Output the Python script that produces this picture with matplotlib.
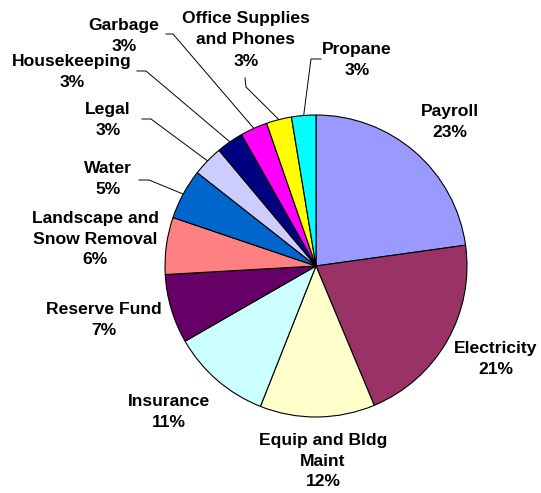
import numpy as np
import matplotlib.pyplot as plt

# budget shares (percent)
categories = ['Payroll', 'Electricity', 'Equip and Bldg\nMaint', 'Insurance',
              'Reserve Fund', 'Landscape and\nSnow Removal', 'Water', 'Legal',
              'Housekeeping', 'Garbage', 'Office Supplies\nand Phones', 'Propane']
shares = [22.8, 20.9, 12.3, 10.7, 7.4, 6.1, 5.4, 3.3, 2.9, 2.9, 2.7, 2.6]
colors = ['#9999FF', '#993366', '#FFFFCC', '#CCFFFF', '#660066', '#FF8080',
          '#0066CC', '#CCCCFF', '#000080', '#FF00FF', '#FFFF00', '#00FFFF']

W, H = 541, 493
fig = plt.figure(figsize=(W / 100, H / 100), dpi=100)
ax = fig.add_axes([0, 0, 1, 1])

cx, cy, r = 316, 266, 151
wedges, _ = ax.pie(shares, colors=colors, startangle=90, counterclock=False,
                   center=(cx, H - cy), radius=r,
                   wedgeprops=dict(edgecolor='black', linewidth=0.8))
ax.set_xlim(0, W)
ax.set_ylim(0, H)
ax.set_aspect('equal')
ax.axis('off')

# label block centres (pixels from top left)
label_pos = [(450, 122), (496, 359), (323, 461), (169, 412), (104, 320),
             (95, 239), (108, 179), (108, 120), (72, 72), (124, 36),
             (246, 40), (357, 60)]
# leader lines for the thin slices: start and elbow, pixels
leaders = {6: ((139, 180), (149, 180)),
           7: ((142, 119), (151, 119)),
           8: ((137, 71), (146, 71)),
           9: ((166, 34), (173, 34)),
           10: ((245, 78), (246, 87)),
           11: ((321, 59), (311, 59))}

total = sum(shares)
for i, (name, s) in enumerate(zip(categories, shares)):
    pct = int(s / total * 100 + 0.5)
    x, y = label_pos[i]
    ax.text(x, H - y, '{}\n{}%'.format(name, pct), ha='center', va='center',
            fontsize=12.6, fontweight='bold', family='Liberation Sans',
            linespacing=1.5)

for i, (p0, p1) in leaders.items():
    w = wedges[i]
    th = np.deg2rad((w.theta1 + w.theta2) / 2)
    ex = cx + r * np.cos(th)
    ey = (H - cy) + r * np.sin(th)
    ax.plot([p0[0], p1[0], ex], [H - p0[1], H - p1[1], ey], color='black', lw=0.7)

fig.savefig('out.png', dpi=100)
